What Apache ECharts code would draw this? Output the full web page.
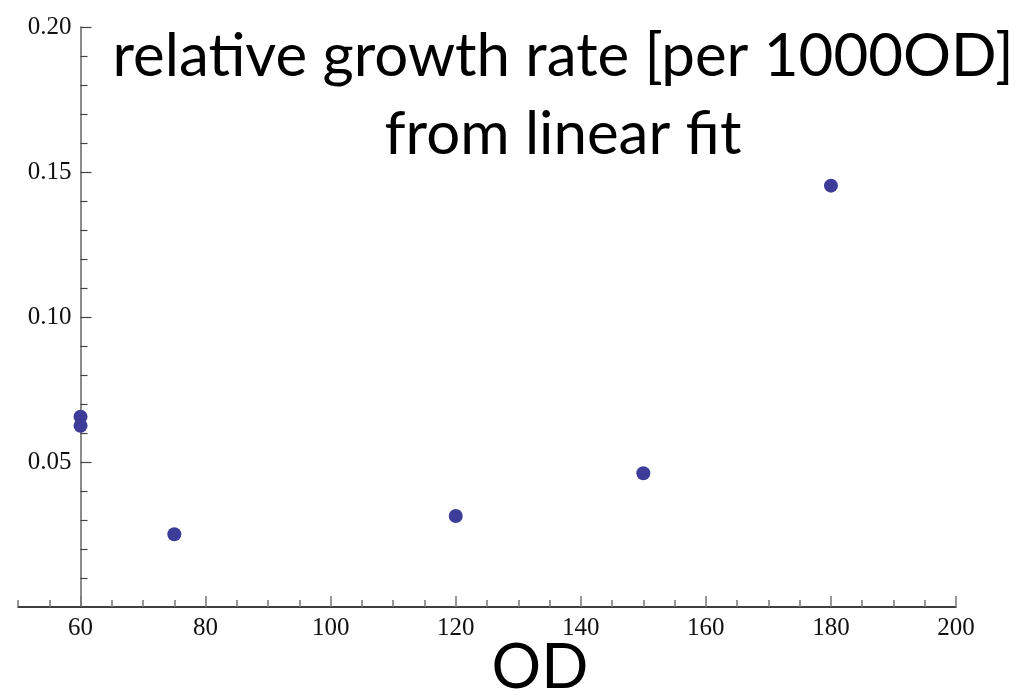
<!DOCTYPE html>
<html>
<head>
<meta charset="utf-8">
<script src="https://cdn.jsdelivr.net/npm/echarts@6/dist/echarts.min.js"></script>
<style>html,body{margin:0;padding:0;background:#fff}#c{width:1017px;height:696px}</style>
</head>
<body>
<div id="c"></div>
<script>
const odValues = [60, 60, 75, 120, 150, 180];
const growthRates = [0.0656, 0.0625, 0.0251, 0.0314, 0.0461, 0.1453];
const xTickLabels = [60, 80, 100, 120, 140, 160, 180, 200];
const yTickLabels = [0.05, 0.10, 0.15, 0.20];
const titleLines = ['relative growth rate [per 1000OD]', 'from linear fit'];
const xAxisTitle = 'OD';

const chart = echarts.init(document.getElementById('c'));
const serif = '"Liberation Serif", "DejaVu Serif", serif';
chart.setOption({
  animation: false,
  title: [
    { text: titleLines.join('\n'), left: 558, top: 13, textAlign: 'center',
      textStyle: { fontFamily: 'Lato', fontSize: 60, fontWeight: 'normal', color: '#000', lineHeight: 78 } },
    { text: xAxisTitle, left: 535, top: 632, textAlign: 'center',
      textStyle: { fontFamily: 'Lato', fontSize: 62, fontWeight: 'normal', color: '#000' } }
  ],
  grid: { left: 18, right: 61, top: 27, bottom: 89, containLabel: false },
  xAxis: [
    { type: 'value', min: 50, max: 200, interval: 5, position: 'bottom',
      axisLine: { show: true, onZero: false, lineStyle: { color: '#000', width: 1.5 } },
      axisTick: { show: true, inside: true, length: 7, lineStyle: { color: '#777', width: 1.5 } },
      axisLabel: { show: false }, splitLine: { show: false } },
    { type: 'value', min: 50, max: 200, position: 'bottom',
      axisLine: { show: false, onZero: false },
      axisTick: { show: true, inside: true, length: 11, customValues: xTickLabels, lineStyle: { color: '#777', width: 1.5 } },
      axisLabel: { show: true, customValues: xTickLabels, margin: 9, fontFamily: serif, fontSize: 25, color: '#111' },
      splitLine: { show: false } }
  ],
  yAxis: {
    type: 'value', min: 0, max: 0.2, interval: 0.05, offset: -62.5,
    axisLine: { show: true, onZero: false, lineStyle: { color: '#666', width: 1.5 } },
    axisTick: { show: true, inside: true, length: 11, customValues: yTickLabels, lineStyle: { color: '#444', width: 1.2 } },
    minorTick: { show: true, splitNumber: 5, length: 7, lineStyle: { color: '#444', width: 1.2 } },
    axisLabel: { show: true, customValues: yTickLabels, margin: 9, fontFamily: serif, fontSize: 25, color: '#111',
      formatter: v => v.toFixed(2) },
    splitLine: { show: false }
  },
  series: [{
    type: 'scatter', xAxisIndex: 0, yAxisIndex: 0, clip: false,
    symbol: 'circle', symbolSize: 14,
    itemStyle: { color: '#3d3d99', opacity: 1 },
    data: odValues.map((x, i) => [x, growthRates[i]])
  }]
});
</script>
</body>
</html>
